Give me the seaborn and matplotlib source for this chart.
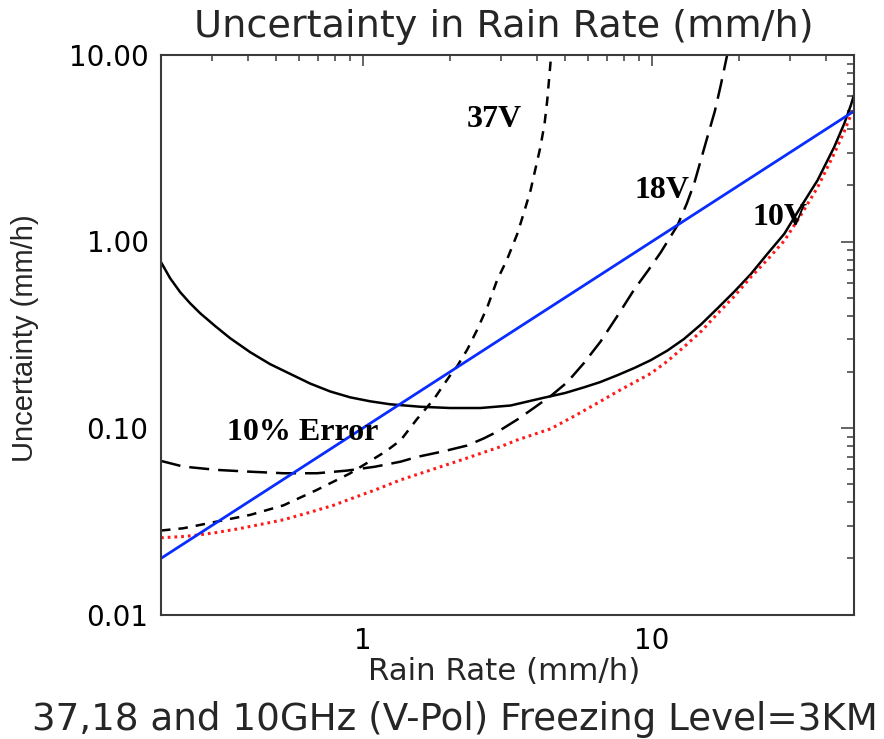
import matplotlib
matplotlib.use("Agg")
import matplotlib.pyplot as plt
from matplotlib.ticker import FixedLocator, FixedFormatter, LogLocator, NullFormatter
import pandas as pd
import seaborn as sns

# Rain rate (mm/h) and retrieval uncertainty (mm/h) for each channel
rain_10v = [0.2, 0.215, 0.233, 0.252, 0.273, 0.308, 0.347, 0.407, 0.477, 0.56,
            0.657, 0.77, 0.903, 1.06, 1.243, 1.58, 2.0, 2.55, 3.24, 4.2, 5.0,
            5.8, 6.6, 7.6, 8.7, 9.9, 11.3, 12.9, 14.8, 16.9, 19.3, 22.0, 25.1,
            28.7, 32.7, 37.4, 42.7, 46.3, 48.8, 50.0]
unc_10v = [0.775, 0.636, 0.535, 0.467, 0.413, 0.352, 0.303, 0.255, 0.220, 0.195,
           0.173, 0.157, 0.146, 0.139, 0.134, 0.130, 0.128, 0.128, 0.132, 0.145,
           0.154, 0.165, 0.176, 0.192, 0.21, 0.231, 0.26, 0.30, 0.36, 0.44,
           0.54, 0.67, 0.86, 1.10, 1.53, 2.13, 3.21, 4.3, 5.4, 6.1]

rain_10v_ref = [0.2, 0.24, 0.27, 0.31, 0.37, 0.47, 0.53, 0.65, 0.79, 0.88, 1.1,
                1.35, 1.8, 2.29, 2.99, 3.42, 4.46, 5.5, 6.47, 7.6, 8.7, 9.9,
                11.3, 12.9, 14.8, 16.9, 19.3, 22.0, 25.1, 28.7, 32.7, 37.4,
                42.7, 46.3, 50.0]
unc_10v_ref = [0.0258, 0.0262, 0.0267, 0.0275, 0.0288, 0.031, 0.0322, 0.0352,
               0.0385, 0.041, 0.0465, 0.0527, 0.061, 0.069, 0.0794, 0.0863,
               0.099, 0.118, 0.136, 0.157, 0.176, 0.196, 0.228, 0.272, 0.33,
               0.412, 0.51, 0.646, 0.80, 1.01, 1.38, 1.95, 2.96, 3.9, 5.26]

rain_18v = [0.2, 0.239, 0.312, 0.407, 0.531, 0.693, 0.88, 1.1, 1.35, 1.54, 1.9,
            2.29, 2.62, 2.99, 3.45, 3.9, 4.5, 5.09, 5.8, 6.63, 7.6, 8.66, 9.7,
            10.7, 12.25, 13.2, 14.0, 15.6, 16.5, 17.3, 18.2]
unc_18v = [0.0666, 0.0621, 0.0596, 0.0583, 0.0572, 0.0572, 0.0591, 0.062, 0.066,
           0.070, 0.075, 0.0805, 0.088, 0.0975, 0.112, 0.128, 0.150, 0.176,
           0.222, 0.29, 0.40, 0.55, 0.70, 0.87, 1.22, 1.6, 2.05, 3.7, 5.0, 6.9,
           10.0]

rain_37v = [0.2, 0.239, 0.312, 0.407, 0.531, 0.693, 0.9, 1.0, 1.2, 1.35, 1.54,
            1.76, 2.0, 2.12, 2.3, 2.48, 2.7, 2.91, 3.15, 3.42, 3.6, 3.8, 3.95,
            4.11, 4.25, 4.34, 4.46]
unc_37v = [0.0282, 0.0290, 0.0315, 0.0342, 0.0385, 0.0466, 0.057, 0.063, 0.075,
           0.086, 0.112, 0.143, 0.191, 0.215, 0.265, 0.335, 0.45, 0.62, 0.80,
           1.10, 1.42, 1.88, 2.45, 3.21, 4.3, 5.71, 9.3]

rain_10pct = [0.2, 50.0]
unc_10pct = [0.02, 5.0]

x_ticks = [1, 10]
x_tick_labels = ["1", "10"]
y_ticks = [0.01, 0.1, 1, 10]
y_tick_labels = ["0.01", "0.10", "1.00", "10.00"]

sns.set_style("white")
plt.rcParams["font.family"] = ["DejaVu Sans"]

fig = plt.figure(figsize=(8.84, 7.39), dpi=100)
ax = fig.add_axes([161 / 884, 1 - 614.5 / 739, 693 / 884, 559.5 / 739])
ax.set_xscale("log")
ax.set_yscale("log")

def curve(xs, ys, **kw):
    df = pd.DataFrame({"rain": xs, "unc": ys})
    sns.lineplot(data=df, x="rain", y="unc", ax=ax, errorbar=None,
                 estimator=None, sort=False, **kw)

curve(rain_10v, unc_10v, color="black", linewidth=1.8, linestyle="-")
curve(rain_18v, unc_18v, color="black", linewidth=1.8,
      linestyle=(0, (8, 3.6)))
curve(rain_37v, unc_37v, color="black", linewidth=1.8,
      linestyle=(0, (3.8, 3.2)))
curve(rain_10v_ref, unc_10v_ref, color="#ff1a1a", linewidth=2.2,
      linestyle=(0, (0.9, 1.3)))
curve(rain_10pct, unc_10pct, color="#0a2dff", linewidth=2.0, linestyle="-")

ax.set_xlim(0.2, 50)
ax.set_ylim(0.01, 10)

ax.xaxis.set_major_locator(FixedLocator(x_ticks))
ax.xaxis.set_major_formatter(FixedFormatter(x_tick_labels))
ax.xaxis.set_minor_locator(LogLocator(base=10, subs=range(2, 10)))
ax.xaxis.set_minor_formatter(NullFormatter())
ax.yaxis.set_major_locator(FixedLocator(y_ticks))
ax.yaxis.set_major_formatter(FixedFormatter(y_tick_labels))
ax.yaxis.set_minor_locator(LogLocator(base=10, subs=range(2, 10)))
ax.yaxis.set_minor_formatter(NullFormatter())

frame = "#3a3a3a"
for s in ax.spines.values():
    s.set_color(frame)
    s.set_linewidth(1.5)
ax.tick_params(which="both", direction="in", top=True, right=True,
               color=frame, width=1.1, labelcolor="black")
ax.tick_params(axis="x", which="major", length=8, pad=9, labelsize=20)
ax.tick_params(axis="x", which="minor", length=4)
ax.tick_params(axis="y", which="major", length=9.5, pad=9, labelsize=20)
ax.tick_params(axis="y", which="minor", length=5)

ax.set_xlabel("")
ax.set_ylabel("")
fig.text(504 / 884, 1 - 672 / 739, "Rain Rate (mm/h)", ha="center",
         va="center", fontsize=22.2)
fig.text(25 / 884, 1 - 338 / 739, "Uncertainty (mm/h)", ha="center",
         va="center", rotation=90, fontsize=21, family="Liberation Sans")
fig.text(504 / 884, 1 - 27 / 739, "Uncertainty in Rain Rate (mm/h)",
         ha="center", va="center", fontsize=27.5)
fig.text(455 / 884, 1 - 720 / 739,
         "37,18 and 10GHz (V-Pol) Freezing Level=3KM",
         ha="center", va="center", fontsize=26.8)

lab = dict(family="Liberation Serif", weight="bold", fontsize=23,
           ha="center", va="baseline", color="black")
ax.text(2.84, 4.10, "37V", **lab)
ax.text(10.8, 1.706, "18V", **lab)
ax.text(27.7, 1.223, "10V", **lab)
ax.text(0.616, 0.0862, "10% Error", **lab)

fig.savefig("out.png", dpi=100)
